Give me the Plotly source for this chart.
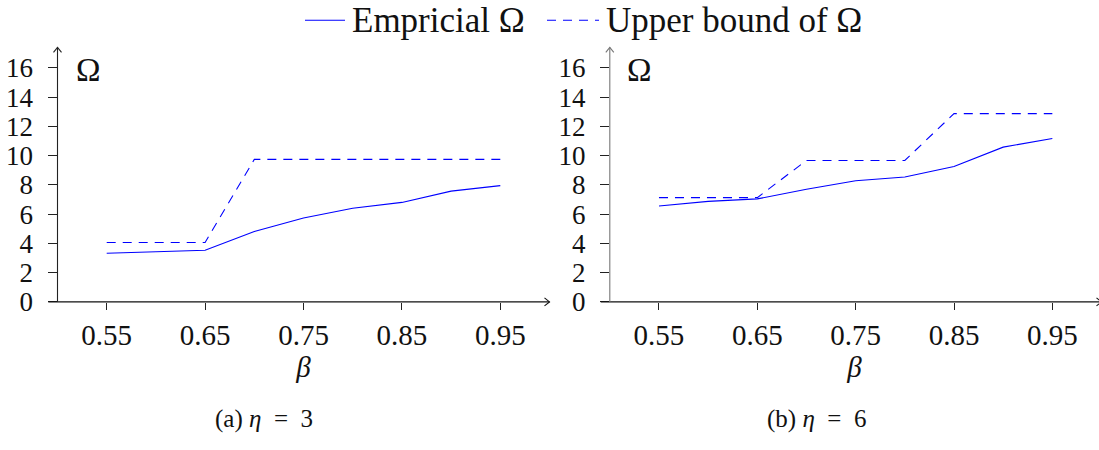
import plotly.graph_objects as go

W, H = 1099, 450

beta = [0.55, 0.60, 0.65, 0.70, 0.75, 0.80, 0.85, 0.90, 0.95]
emp_a = [3.33, 3.45, 3.53, 4.81, 5.74, 6.40, 6.80, 7.57, 7.95]
up_a = [4.06, 4.06, 4.06, 9.74, 9.74, 9.74, 9.74, 9.74, 9.74]
emp_b = [6.56, 6.87, 7.04, 7.70, 8.28, 8.54, 9.25, 10.58, 11.17]
up_b = [7.13, 7.13, 7.13, 9.67, 9.67, 9.67, 12.87, 12.87, 12.87]

xtick_vals = [0.55, 0.65, 0.75, 0.85, 0.95]
xtick_text = ["0.55", "0.65", "0.75", "0.85", "0.95"]
ytick_vals = [0, 2, 4, 6, 8, 10, 12, 14, 16]
legend_names = ["Empricial Ω", "Upper bound of Ω"]
captions = ["(a) <i>η</i>  =  3", "(b) <i>η</i>  =  6"]

FONT = "Liberation Serif, Times New Roman, serif"
BLUE = "#0000ff"
DASH = "9px,7px"

fig = go.Figure()
fig.add_trace(go.Scatter(x=beta, y=emp_a, mode="lines", name=legend_names[0],
                         line=dict(color=BLUE, width=1.1), xaxis="x", yaxis="y"))
fig.add_trace(go.Scatter(x=beta, y=up_a, mode="lines", name=legend_names[1],
                         line=dict(color=BLUE, width=1.1, dash=DASH), xaxis="x", yaxis="y"))
fig.add_trace(go.Scatter(x=beta, y=emp_b, mode="lines", name=legend_names[0],
                         line=dict(color=BLUE, width=1.1), xaxis="x2", yaxis="y2"))
fig.add_trace(go.Scatter(x=beta, y=up_b, mode="lines", name=legend_names[1],
                         line=dict(color=BLUE, width=1.1, dash=DASH), xaxis="x2", yaxis="y2"))

def px(x):
    return x / W

def py(y):
    return 1 - y / H

y0p, y1p = 312.3, 49.0
ydom = [py(y0p), py(y1p)]

common_x = dict(showgrid=False, zeroline=False, showline=False, ticks="outside",
                ticklen=7, tickwidth=1, tickcolor="#222", tickvals=xtick_vals,
                ticktext=xtick_text, tickfont=dict(family=FONT, size=29, color="#111"),
                title=dict(text="<i>β</i>", font=dict(family=FONT, size=29, color="#111"),
                           standoff=7))
common_y = dict(showgrid=False, zeroline=False, showline=False, ticks="outside",
                ticklen=9, tickwidth=1, tickcolor="#222", tickvals=ytick_vals,
                range=[0, 17.4], domain=ydom, ticklabelstandoff=9,
                tickfont=dict(family=FONT, size=27, color="#111"))

fig.update_layout(
    width=W, height=H,
    margin=dict(l=0, r=0, t=0, b=0),
    paper_bgcolor="white", plot_bgcolor="rgba(0,0,0,0)",
    font=dict(family=FONT, color="#111"),
    xaxis=dict(common_x, domain=[px(57.5), px(549.5)], range=[0.5, 1.0], anchor="y"),
    yaxis=dict(common_y, anchor="x"),
    xaxis2=dict(common_x, domain=[px(609.8), 1.0], range=[0.5, 0.99745], anchor="y2"),
    yaxis2=dict(common_y, anchor="x2"),
    showlegend=False,
)

shapes = []
def line(x0, y0, x1, y1, color, dash="solid"):
    shapes.append(dict(type="line", xref="paper", yref="paper",
                       x0=px(x0), y0=py(y0), x1=px(x1), y1=py(y1),
                       line=dict(color=color, width=1.1, dash=dash)))

def arrow(xa, ya, direction, color):
    if direction == "right":
        path = "M -5,4 Q -1.5,1.2 0,0 Q -1.5,-1.2 -5,-4"
    else:
        path = "M -4,-5 Q -1.2,-1.5 0,0 Q 1.2,-1.5 4,-5"
    shapes.append(dict(type="path", xref="paper", yref="paper",
                       xsizemode="pixel", ysizemode="pixel",
                       xanchor=px(xa), yanchor=py(ya), path=path,
                       line=dict(color=color, width=1.1)))

# left panel axes
line(48.3, y0p, 549.5, y0p, "#111")
arrow(549.5, y0p, "right", "#111")
line(57.5, y0p, 57.5, y1p, "#222")
arrow(57.5, y1p, "up", "#222")
# right panel axes
line(600.7, y0p, 1101.5, y0p, "#111")
arrow(1101.5, y0p, "right", "#111")
line(609.8, y0p, 609.8, y1p, "#777")
arrow(609.8, y1p, "up", "#777")

# legend (drawn manually to match the reference placement)
LEG_Y = 21
line(305, LEG_Y, 345, LEG_Y, BLUE)
line(547, LEG_Y, 599, LEG_Y, BLUE, dash=DASH)

fig.update_layout(shapes=shapes)

annotations = [
    dict(text=legend_names[0], x=px(350), y=py(LEG_Y), xref="paper", yref="paper",
         showarrow=False, xanchor="left", yanchor="middle",
         font=dict(family=FONT, size=35, color="#111")),
    dict(text=legend_names[1], x=px(604), y=py(LEG_Y), xref="paper", yref="paper",
         showarrow=False, xanchor="left", yanchor="middle",
         font=dict(family=FONT, size=35, color="#111")),
    dict(text="Ω", x=px(88.5), y=py(72), xref="paper", yref="paper", showarrow=False,
         xanchor="center", yanchor="middle", font=dict(family=FONT, size=33, color="#111")),
    dict(text="Ω", x=px(639), y=py(72), xref="paper", yref="paper", showarrow=False,
         xanchor="center", yanchor="middle", font=dict(family=FONT, size=33, color="#111")),
    dict(text=captions[0], x=px(264), y=py(433), xref="paper", yref="paper",
         showarrow=False, xanchor="center", yanchor="middle",
         font=dict(family=FONT, size=25, color="#111")),
    dict(text=captions[1], x=px(816), y=py(433), xref="paper", yref="paper",
         showarrow=False, xanchor="center", yanchor="middle",
         font=dict(family=FONT, size=25, color="#111")),
]
fig.update_layout(annotations=annotations)

fig.write_html("out.html", config={"displayModeBar": False},
               post_script="document.body.style.margin='0px';document.body.style.overflow='hidden';")
